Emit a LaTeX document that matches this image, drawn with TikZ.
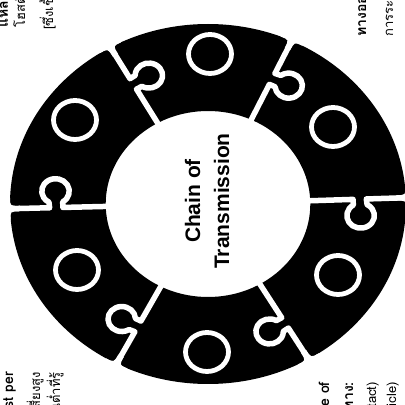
\documentclass[tikz,border=0pt]{standalone}
\usepackage{fontspec}
\setmainfont{Liberation Sans}
\newfontfamily\thaifont[Script=Thai]{Loma}
\tikzset{
  gapline/.style={white, line width=5.5pt, line join=round, line cap=butt},
  hole/.style={draw=white, line width=4.8pt, fill=black},
  side/.style={rotate=90, inner sep=0pt, font=\thaifont\fontsize{13}{15}\selectfont},
  sidebold/.style={side, font=\thaifont\bfseries\fontsize{14}{16}\selectfont},
}
\begin{document}
\begin{tikzpicture}[x=1pt,y=1pt]
\useasboundingbox (0,0) rectangle (405,405);
\begin{scope}
\clip (0,0) rectangle (405,405);
\fill[white] (0,0) rectangle (405,405);
% ring of six puzzle pieces
\begin{scope}[shift={(208,201)}, xscale=1.1]
  \fill[black, even odd rule] (0,0) circle (180) (0,0) circle (93);
  \foreach \g in {2,65,119.5,181.5,242.5,300.5} {
    \begin{scope}[rotate=\g]
      \draw[gapline] (90,0) -- (132,0) -- (132,-5.61) arc (120:420:12.5) -- (144,0) -- (184,0);
      \fill[white] (171,-2.75) .. controls (179.98,-2.75) .. ({180*cos(3.42)},{-180*sin(3.42)})
        -- (196,-14) -- (196,14) -- ({180*cos(3.42)},{180*sin(3.42)})
        .. controls (179.98,2.75) .. (171,2.75) -- cycle;
    \end{scope}
  }
\end{scope}
% holes in the pieces
\draw[hole] (210,351) ellipse [x radius=21.5, y radius=19.5];
\draw[hole] (75,285) ellipse [x radius=21.5, y radius=19.5];
\draw[hole] (333,278) ellipse [x radius=21.5, y radius=19.5];
\draw[hole] (77,135) ellipse [x radius=21.5, y radius=19.5];
\draw[hole] (338,130) ellipse [x radius=21.5, y radius=19.5];
\draw[hole] (207,53) ellipse [x radius=21.5, y radius=19.5];
% centre title
\node[rotate=90, align=center, font=\bfseries\fontsize{21}{29}\selectfont] (title) at (207,204) {Chain of\\Transmission};
% corner labels (cut by the frame, as in the reference)
\node[sidebold, anchor=base west] (tl1) at (8,377) {แหล่งรังโรค (Reservoir)};
\node[side, anchor=base west] (tl2) at (25,377) {โฮสต์ (Host)};
\node[side, anchor=base west] (tl3) at (53,375) {[ซึ่งเชื้อโรคอาศัยอยู่]};
\node[sidebold, anchor=base west] (tr1) at (366,368) {ทางออกของเชื้อ};
\node[side, anchor=base west] (tr2) at (393,368) {การระบายเชื้อออก};
\node[sidebold, anchor=base east] (bl1) at (13,33) {Susceptible Host per};
\node[side, anchor=base east] (bl2) at (40,33) {ประชากรกลุ่มเสี่ยงสูง};
\node[side, anchor=base east] (bl3) at (60,33) {ผู้มีภูมิคุ้มกันต่ำที่รู้};
\node[sidebold, anchor=base east] (br1) at (329,23) {Mode of};
\node[sidebold, anchor=base east] (br2) at (353,23) {การแพร่เชื้อทาง:};
\node[side, anchor=base east] (br3) at (376,23) {(Direct contact)};
\node[side, anchor=base east] (br4) at (396,23) {(Vehicle)};
\end{scope}
\end{tikzpicture}
\end{document}
